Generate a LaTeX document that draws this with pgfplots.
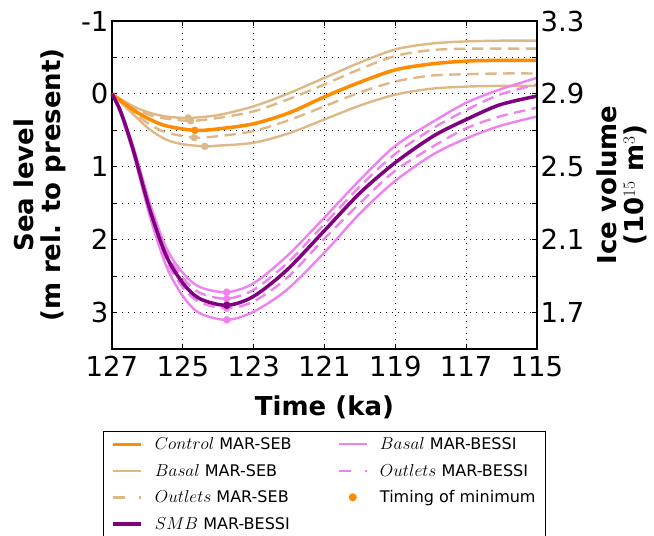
\documentclass[border=0pt]{standalone}
\usepackage{fontspec}
\setmainfont{DejaVu Sans}
\usepackage{pgfplots}
\usepackage{pgfplotstable}
\pgfplotsset{compat=1.18}

\definecolor{ctrlc}{RGB}{255,140,0}
\definecolor{sebtan}{RGB}{222,184,135}
\definecolor{smbc}{RGB}{128,0,128}
\definecolor{vio}{RGB}{238,130,238}

% time (ka), sea level (m rel. to present)
\pgfplotstableread{
t s
127 0
126.4 0.22
125.93 0.35
125.46 0.44
124.66 0.50
124 0.48
123 0.41
122 0.26
121 0.04
120 -0.16
119 -0.33
118 -0.41
117 -0.45
116 -0.46
115 -0.46
}\control

\pgfplotstableread{
t s
127 0
126.4 0.17
125.93 0.26
125.46 0.31
124.85 0.33
124 0.29
123 0.17
122 -0.01
121 -0.22
120 -0.43
119 -0.61
118 -0.69
117 -0.72
116 -0.73
115 -0.73
}\basalsebhi

\pgfplotstableread{
t s
127 0
126.4 0.28
125.93 0.49
125.46 0.63
125 0.69
124.38 0.72
124 0.71
123 0.67
122 0.54
121 0.35
120 0.16
119 0.01
118 -0.07
117 -0.10
116 -0.11
115 -0.11
}\basalseblo

\pgfplotstableread{
t s
127 0
126.4 0.19
125.93 0.29
125.46 0.34
124.78 0.37
124 0.33
123 0.24
122 0.07
121 -0.13
120 -0.34
119 -0.52
118 -0.60
117 -0.62
116 -0.62
115 -0.62
}\outsebhi

\pgfplotstableread{
t s
127 0
126.4 0.25
125.93 0.42
125.46 0.53
124.68 0.60
124 0.58
123 0.51
122 0.36
121 0.17
120 -0.02
119 -0.17
118 -0.25
117 -0.27
116 -0.28
115 -0.28
}\outseblo

\pgfplotstableread{
t s
127 0
126.75 0.25
126.4 0.77
125.93 1.59
125.46 2.23
124.99 2.60
124.52 2.81
123.76 2.90
123.01 2.78
122.07 2.42
120.99 1.87
120 1.36
119.02 0.95
117.93 0.58
116.99 0.35
116.05 0.15
115 0.03
}\smb

\pgfplotstableread{
t s
127 0
126.75 0.23
126.4 0.72
125.93 1.50
125.46 2.12
124.99 2.46
124.52 2.65
123.76 2.72
123.01 2.60
122.07 2.23
120.99 1.69
120 1.18
119.02 0.72
117.93 0.38
116.99 0.12
116.05 -0.06
115 -0.22
}\basalbeshi

\pgfplotstableread{
t s
127 0
126.75 0.28
126.4 0.81
125.93 1.68
125.46 2.37
124.99 2.78
124.52 3.01
123.76 3.10
123.01 2.99
122.07 2.69
120.99 2.17
120 1.64
119.02 1.20
117.93 0.83
116.99 0.61
116.05 0.44
115 0.31
}\basalbeslo

\pgfplotstableread{
t s
127 0
126.75 0.24
126.4 0.74
125.93 1.54
125.46 2.17
124.99 2.53
124.52 2.73
123.76 2.81
123.01 2.69
122.07 2.33
120.99 1.78
120 1.27
119.02 0.83
117.93 0.47
116.99 0.22
116.05 0.01
115 -0.13
}\outbeshi

\pgfplotstableread{
t s
127 0
126.75 0.26
126.4 0.79
125.93 1.63
125.46 2.29
124.99 2.66
124.52 2.86
123.76 2.94
123.01 2.85
122.07 2.53
120.99 1.98
120 1.50
119.02 1.06
117.93 0.72
116.99 0.47
116.05 0.31
115 0.19
}\outbeslo

% timing of minimum
\pgfplotstableread{
t s
124.85 0.33
124.78 0.37
124.68 0.60
124.38 0.72
}\minseb
\pgfplotstableread{
t s
124.66 0.50
}\minctrl
\pgfplotstableread{
t s
123.76 2.72
123.76 2.81
123.76 2.94
123.76 3.10
}\minbes
\pgfplotstableread{
t s
123.76 2.90
}\minsmb

\begin{document}
\begin{tikzpicture}
\begin{axis}[
    name=main,
    scale only axis,
    width=425pt,
    height=328pt,
    xmin=115, xmax=127,
    x dir=reverse,
    ymin=-1, ymax=3.5,
    y dir=reverse,
    xtick={115,117,...,127},
    ytick={-1,0,1,2,3},
    minor ytick={-0.5,0.5,1.5,2.5,3.5},
    grid=both,
    major grid style={black, line width=1pt, dash pattern=on 1.3pt off 4.7pt},
    minor grid style={black, line width=1pt, dash pattern=on 1.3pt off 4.7pt},
    axis line style={line width=1.8pt},
    tick style={black, line width=1pt},
    major tick length=5pt,
    minor tick length=5pt,
    /pgf/number format/assume math mode=true,
    tick label style={font=\fontsize{27.5}{30}\selectfont},
    xticklabel shift=4pt,
    xlabel={Time (ka)},
    ylabel={Sea level\\(m rel. to present)},
    label style={font=\bfseries\fontsize{26}{27}\selectfont},
    ylabel style={align=center},
    xlabel shift=12pt,
    ylabel shift=8pt,
    clip=false,
    legend columns=2,
    legend cell align=left,
    legend image code/.code={\draw[mark repeat=2,mark phase=2,#1] plot coordinates {(0pt,0pt) (14pt,0pt) (28pt,0pt)}; \path (38pt,0pt);},
    legend style={at={(0.5,-0.25)}, anchor=north, draw=black, line width=1pt,
        font=\fontsize{16}{19}\selectfont, row sep=9pt, inner xsep=8pt, inner ysep=4pt,
        /tikz/every even column/.append style={column sep=44pt}},
]
\addplot[sebtan, line width=2.4pt, smooth, forget plot] table {\basalsebhi};
\addplot[sebtan, line width=2.4pt, smooth, forget plot] table {\basalseblo};
\addplot[sebtan, line width=2.4pt, dash pattern=on 11.5pt off 6.5pt, smooth, forget plot] table {\outsebhi};
\addplot[sebtan, line width=2.4pt, dash pattern=on 11.5pt off 6.5pt, smooth, forget plot] table {\outseblo};
\addplot[ctrlc, line width=3.5pt, smooth, forget plot] table {\control};
\addplot[vio, line width=2.4pt, smooth, forget plot] table {\basalbeshi};
\addplot[vio, line width=2.4pt, smooth, forget plot] table {\basalbeslo};
\addplot[vio, line width=2.4pt, dash pattern=on 11.5pt off 6.5pt, smooth, forget plot] table {\outbeshi};
\addplot[vio, line width=2.4pt, dash pattern=on 11.5pt off 6.5pt, smooth, forget plot] table {\outbeslo};
\addplot[smbc, line width=3.5pt, smooth, forget plot] table {\smb};
\addplot[only marks, mark=*, mark size=3.5pt, sebtan, forget plot] table {\minseb};
\addplot[only marks, mark=*, mark size=3.5pt, ctrlc, forget plot] table {\minctrl};
\addplot[only marks, mark=*, mark size=3.5pt, vio, forget plot] table {\minbes};
\addplot[only marks, mark=*, mark size=3.5pt, smbc, forget plot] table {\minsmb};

\addlegendimage{ctrlc, line width=3.5pt}
\addlegendentry{$Control$ MAR-SEB}
\addlegendimage{vio, line width=2.4pt}
\addlegendentry{$Basal$ MAR-BESSI}
\addlegendimage{sebtan, line width=2.4pt}
\addlegendentry{$Basal$ MAR-SEB}
\addlegendimage{vio, line width=2.4pt, dash pattern=on 12pt off 14pt}
\addlegendentry{$Outlets$ MAR-BESSI}
\addlegendimage{sebtan, line width=2.4pt, dash pattern=on 12pt off 14pt}
\addlegendentry{$Outlets$ MAR-SEB}
\addlegendimage{only marks, mark=*, mark size=3.5pt, ctrlc}
\addlegendentry{Timing of minimum}
\addlegendimage{smbc, line width=3.5pt}
\addlegendentry{$SMB$ MAR-BESSI}

\coordinate (bbsw) at (rel axis cs:-0.2635,-0.570);
\coordinate (bbne) at (rel axis cs:1.2753,1.064);
\end{axis}
\begin{axis}[
    scale only axis,
    width=425pt,
    height=328pt,
    xmin=115, xmax=127,
    x dir=reverse,
    hide x axis,
    axis y line*=right,
    ymin=1.5, ymax=3.3,
    ytick={1.7,2.1,2.5,2.9,3.3},
    minor ytick={1.9,2.3,2.7,3.1},
    axis line style={line width=1.8pt},
    tick style={black, line width=1pt},
    major tick length=5pt,
    minor tick length=5pt,
    /pgf/number format/.cd, fixed, fixed zerofill, precision=1, assume math mode=true,
    /pgfplots/.cd,
    tick label style={font=\fontsize{27.5}{30}\selectfont},
    ylabel={Ice volume\\(10$^{15}$ m$^{3}$)},
    ylabel style={align=center, font=\bfseries\fontsize{26}{27}\selectfont},
    ylabel shift=6pt,
]
\end{axis}
\pgfresetboundingbox
\useasboundingbox (bbsw) rectangle (bbne);
\end{tikzpicture}
\end{document}
